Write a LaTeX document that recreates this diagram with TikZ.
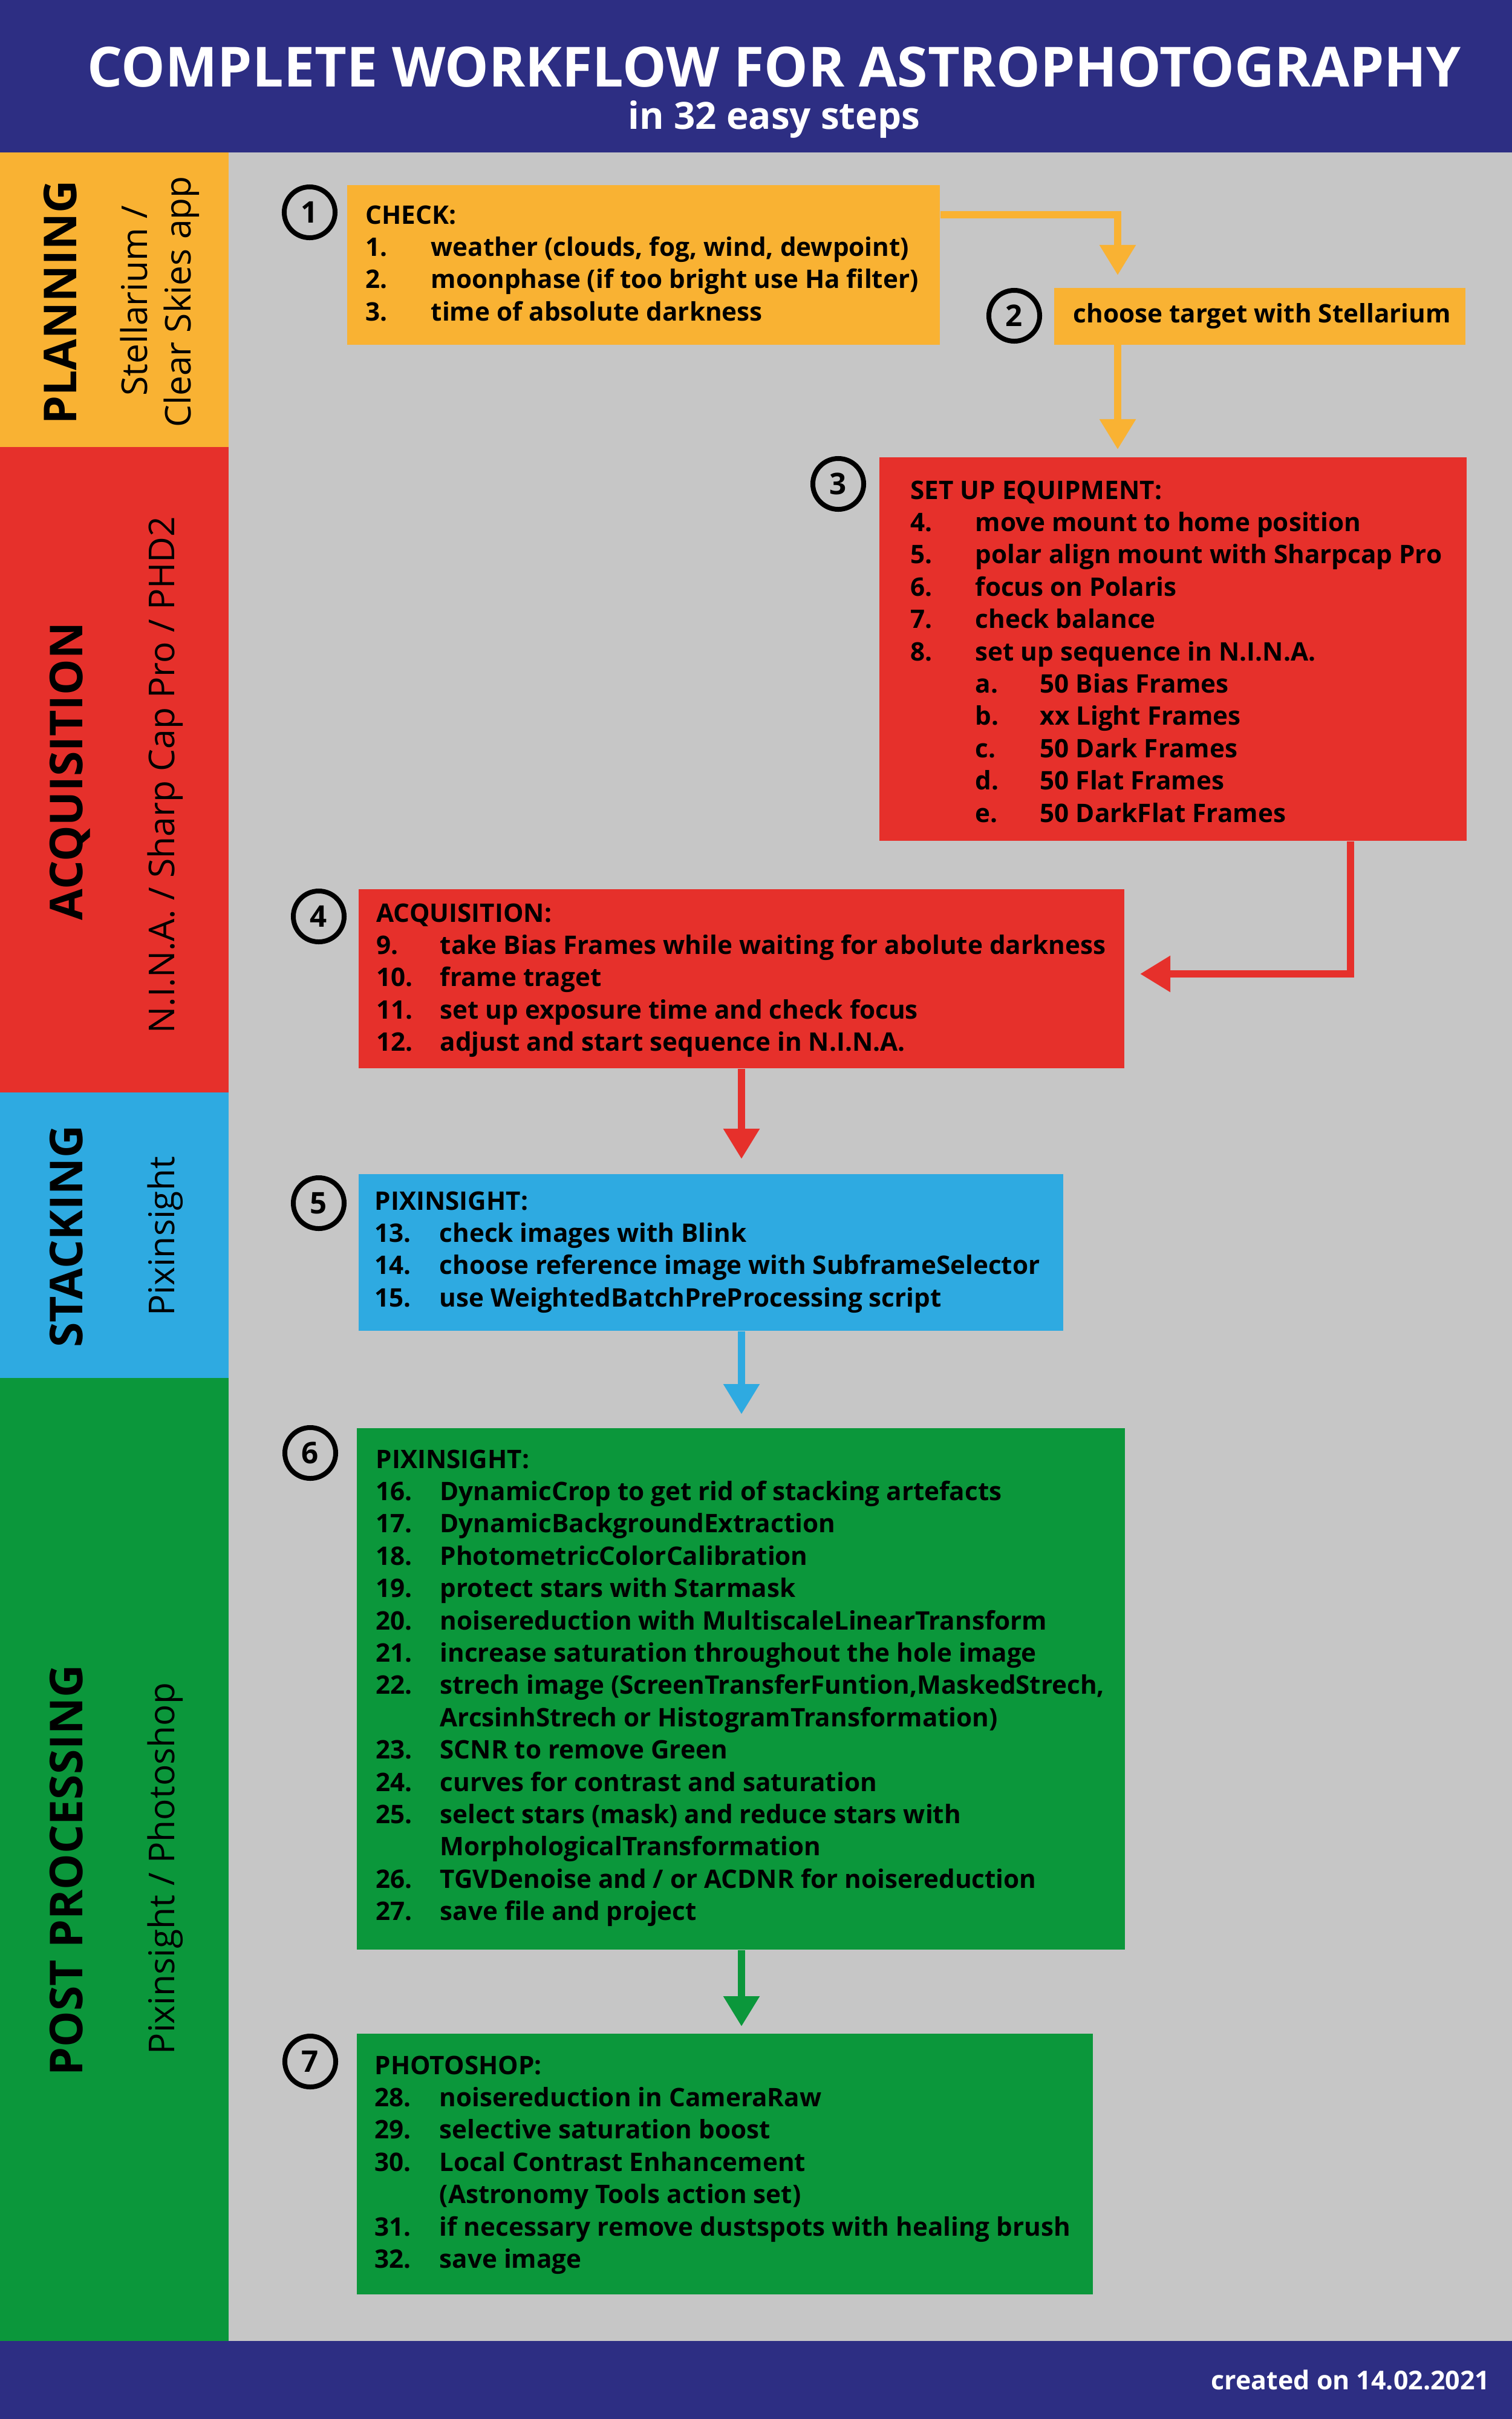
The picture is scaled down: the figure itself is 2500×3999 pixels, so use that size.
\documentclass[tikz,border=0pt]{standalone}
\usepackage{fontspec}
\setmainfont{Open Sans}
\usetikzlibrary{arrows.meta,calc}
\definecolor{navyC}{HTML}{2D2E83}
\definecolor{grayC}{HTML}{C6C6C6}
\definecolor{orangeC}{HTML}{F9B233}
\definecolor{redC}{HTML}{E6302B}
\definecolor{blueC}{HTML}{2EAAE1}
\definecolor{greenC}{HTML}{0B973B}
\newcommand\boxline[4]{\node[bodytext] (#1) at (#2,#3) {#4};}
\begin{document}
\begin{tikzpicture}[x=0.01cm,y=-0.01cm,
  stepbox/.style={rectangle, inner sep=0, anchor=north west, draw=none},
  bodytext/.style={anchor=base west, inner sep=0, font=\fontsize{12.0}{14}\bfseries\selectfont},
  numcirc/.style={circle, draw=black, line width=0.08cm, minimum size=0.84cm, inner sep=0, font=\fontsize{14}{14}\bfseries\selectfont},
  arr/.style={line width=0.12cm, -{Triangle[length=0.5cm,width=0.57cm]}},
  bandlabel/.style={rotate=90, anchor=base, inner sep=0, font=\fontsize{21.3}{22}\bfseries\selectfont},
  bandsub/.style={rotate=90, anchor=base, inner sep=0, font=\fontsize{16.7}{17}\selectfont},
]
\useasboundingbox (0,0) rectangle (2500,3999);
% background bands
\fill[navyC] (0,0) rectangle (2500,252);
\fill[grayC] (378,252) rectangle (2500,3870);
\fill[orangeC] (0,252) rectangle (378,739);
\fill[redC] (0,739) rectangle (378,1806);
\fill[blueC] (0,1806) rectangle (378,2278);
\fill[greenC] (0,2278) rectangle (378,3870);
\fill[navyC] (0,3870) rectangle (2500,3999);

% header / footer
\node[anchor=base, inner sep=0, text=white, font=\fontsize{26}{28}\bfseries\selectfont] (title) at (1280,143) {COMPLETE WORKFLOW FOR ASTROPHOTOGRAPHY};
\node[anchor=base, inner sep=0, text=white, font=\fontsize{17.6}{18}\bfseries\selectfont] (subtitle) at (1280,213) {in 32 easy steps};
\node[anchor=base east, inner sep=0, text=white, font=\fontsize{12.2}{13}\bfseries\selectfont] (footer) at (2464,3950) {created on 14.02.2021};

% band labels
\node[bandlabel] (lplan) at (126,500) {PLANNING};
\node[bandsub] (lplans1) at (243,497) {Stellarium /};
\node[bandsub] (lplans2) at (315,499) {Clear Skies app};
\node[bandlabel] (lacq) at (136,1275) {ACQUISITION};
\node[bandsub] (lacqs) at (288,1281) {N.I.N.A. / Sharp Cap Pro / PHD2};
\node[bandlabel] (lstack) at (136,2044) {STACKING};
\node[bandsub] (lstacks) at (288,2044) {Pixinsight};
\node[bandlabel] (lpost) at (136,3092) {POST PROCESSING};
\node[bandsub] (lposts) at (288,3089) {Pixinsight / Photoshop};

% boxes
\node[stepbox, fill=orangeC, minimum width=9.80cm, minimum height=2.64cm] (b1) at (573,305) {};
\node[stepbox, fill=orangeC, minimum width=6.80cm, minimum height=0.94cm] (b2) at (1742,475) {};
\node[stepbox, fill=redC, minimum width=9.71cm, minimum height=6.34cm] (b3) at (1453,755) {};
\node[stepbox, fill=redC, minimum width=12.66cm, minimum height=2.96cm] (b4) at (592,1469) {};
\node[stepbox, fill=blueC, minimum width=11.65cm, minimum height=2.59cm] (b5) at (592,1940) {};
\node[stepbox, fill=greenC, minimum width=12.70cm, minimum height=8.62cm] (b6) at (589,2360) {};
\node[stepbox, fill=greenC, minimum width=12.17cm, minimum height=4.31cm] (b7) at (589,3361) {};

% circled numbers
\node[numcirc] (c1) at (512,351) {1};
\node[numcirc] (c2) at (1677,522) {2};
\node[numcirc] (c3) at (1386,800) {3};
\node[numcirc] (c4) at (527,1515) {4};
\node[numcirc] (c5) at (527,1989) {5};
\node[numcirc] (c6) at (513,2402) {6};
\node[numcirc] (c7) at (513,3408) {7};

% connectors
\coordinate (a1) at (1848,455);
\draw[arr, orangeC] ($(b1.north east)+(0,50)$) -| (a1);
\coordinate (a2) at (1848,743);
\draw[arr, orangeC] (b2.south -| a2) -- (a2);
\coordinate (a3k) at (2233,1610);
\coordinate (a3) at (1885,1610);
\draw[arr, redC] (b3.south -| a3k) -- (a3k) -- (a3);
\coordinate (a4) at (1226,1916);
\draw[arr, redC] (b4.south -| a4) -- (a4);
\coordinate (a5) at (1226,2338);
\draw[arr, blueC] (b5.south -| a5) -- (a5);
\coordinate (a6) at (1226,3350);
\draw[arr, greenC] (b6.south -| a6) -- (a6);

% box 1
\boxline{h1}{604}{370}{CHECK:}
\boxline{n1a}{604}{423.4}{1.}\boxline{t1a}{712}{423.4}{weather (clouds, fog, wind, dewpoint)}
\boxline{n1b}{604}{476.8}{2.}\boxline{t1b}{712}{476.8}{moonphase (if too bright use Ha filter)}
\boxline{n1c}{604}{530.2}{3.}\boxline{t1c}{712}{530.2}{time of absolute darkness}
% box 2
\boxline{t2}{1774}{533}{choose target with Stellarium}
% box 3
\boxline{h3}{1505}{825}{SET UP EQUIPMENT:}
\boxline{n3a}{1505}{878.4}{4.}\boxline{t3a}{1612}{878.4}{move mount to home position}
\boxline{n3b}{1505}{931.8}{5.}\boxline{t3b}{1612}{931.8}{polar align mount with Sharpcap Pro}
\boxline{n3c}{1505}{985.2}{6.}\boxline{t3c}{1612}{985.2}{focus on Polaris}
\boxline{n3d}{1505}{1038.6}{7.}\boxline{t3d}{1612}{1038.6}{check balance}
\boxline{n3e}{1505}{1092}{8.}\boxline{t3e}{1612}{1092}{set up sequence in N.I.N.A.}
\boxline{n3f}{1612}{1145.4}{a.}\boxline{t3f}{1719}{1145.4}{50 Bias Frames}
\boxline{n3g}{1612}{1198.8}{b.}\boxline{t3g}{1719}{1198.8}{xx Light Frames}
\boxline{n3h}{1612}{1252.2}{c.}\boxline{t3h}{1719}{1252.2}{50 Dark Frames}
\boxline{n3i}{1612}{1305.6}{d.}\boxline{t3i}{1719}{1305.6}{50 Flat Frames}
\boxline{n3j}{1612}{1359}{e.}\boxline{t3j}{1719}{1359}{50 DarkFlat Frames}
% box 4
\boxline{h4}{622}{1524}{ACQUISITION:}
\boxline{n4a}{622}{1577.4}{9.}\boxline{t4a}{727}{1577.4}{take Bias Frames while waiting for abolute darkness}
\boxline{n4b}{622}{1630.8}{10.}\boxline{t4b}{727}{1630.8}{frame traget}
\boxline{n4c}{622}{1684.2}{11.}\boxline{t4c}{727}{1684.2}{set up exposure time and check focus}
\boxline{n4d}{622}{1737.6}{12.}\boxline{t4d}{727}{1737.6}{adjust and start sequence in N.I.N.A.}
% box 5
\boxline{h5}{619}{2000}{PIXINSIGHT:}
\boxline{n5a}{619}{2053.4}{13.}\boxline{t5a}{726}{2053.4}{check images with Blink}
\boxline{n5b}{619}{2106.8}{14.}\boxline{t5b}{726}{2106.8}{choose reference image with SubframeSelector}
\boxline{n5c}{619}{2160.2}{15.}\boxline{t5c}{726}{2160.2}{use WeightedBatchPreProcessing script}
% box 6
\boxline{h6}{621}{2427}{PIXINSIGHT:}
\boxline{n6a}{621}{2480.4}{16.}\boxline{t6a}{727}{2480.4}{DynamicCrop to get rid of stacking artefacts}
\boxline{n6b}{621}{2533.8}{17.}\boxline{t6b}{727}{2533.8}{DynamicBackgroundExtraction}
\boxline{n6c}{621}{2587.2}{18.}\boxline{t6c}{727}{2587.2}{PhotometricColorCalibration}
\boxline{n6d}{621}{2640.6}{19.}\boxline{t6d}{727}{2640.6}{protect stars with Starmask}
\boxline{n6e}{621}{2694}{20.}\boxline{t6e}{727}{2694}{noisereduction with MultiscaleLinearTransform}
\boxline{n6f}{621}{2747.4}{21.}\boxline{t6f}{727}{2747.4}{increase saturation throughout the hole image}
\boxline{n6g}{621}{2800.8}{22.}\boxline{t6g}{727}{2800.8}{strech image (ScreenTransferFuntion,MaskedStrech,}
\boxline{t6h}{727}{2854.2}{ArcsinhStrech or HistogramTransformation)}
\boxline{n6i}{621}{2907.6}{23.}\boxline{t6i}{727}{2907.6}{SCNR to remove Green}
\boxline{n6j}{621}{2961}{24.}\boxline{t6j}{727}{2961}{curves for contrast and saturation}
\boxline{n6k}{621}{3014.4}{25.}\boxline{t6k}{727}{3014.4}{select stars (mask) and reduce stars with}
\boxline{t6l}{727}{3067.8}{MorphologicalTransformation}
\boxline{n6m}{621}{3121.2}{26.}\boxline{t6m}{727}{3121.2}{TGVDenoise and / or ACDNR for noisereduction}
\boxline{n6n}{621}{3174.6}{27.}\boxline{t6n}{727}{3174.6}{save file and project}
% box 7
\boxline{h7}{619}{3429}{PHOTOSHOP:}
\boxline{n7a}{619}{3482.4}{28.}\boxline{t7a}{726}{3482.4}{noisereduction in CameraRaw}
\boxline{n7b}{619}{3535.8}{29.}\boxline{t7b}{726}{3535.8}{selective saturation boost}
\boxline{n7c}{619}{3589.2}{30.}\boxline{t7c}{726}{3589.2}{Local Contrast Enhancement}
\boxline{t7d}{726}{3642.6}{(Astronomy Tools action set)}
\boxline{n7e}{619}{3696}{31.}\boxline{t7e}{726}{3696}{if necessary remove dustspots with healing brush}
\boxline{n7f}{619}{3749.4}{32.}\boxline{t7f}{726}{3749.4}{save image}
\end{tikzpicture}
\end{document}
